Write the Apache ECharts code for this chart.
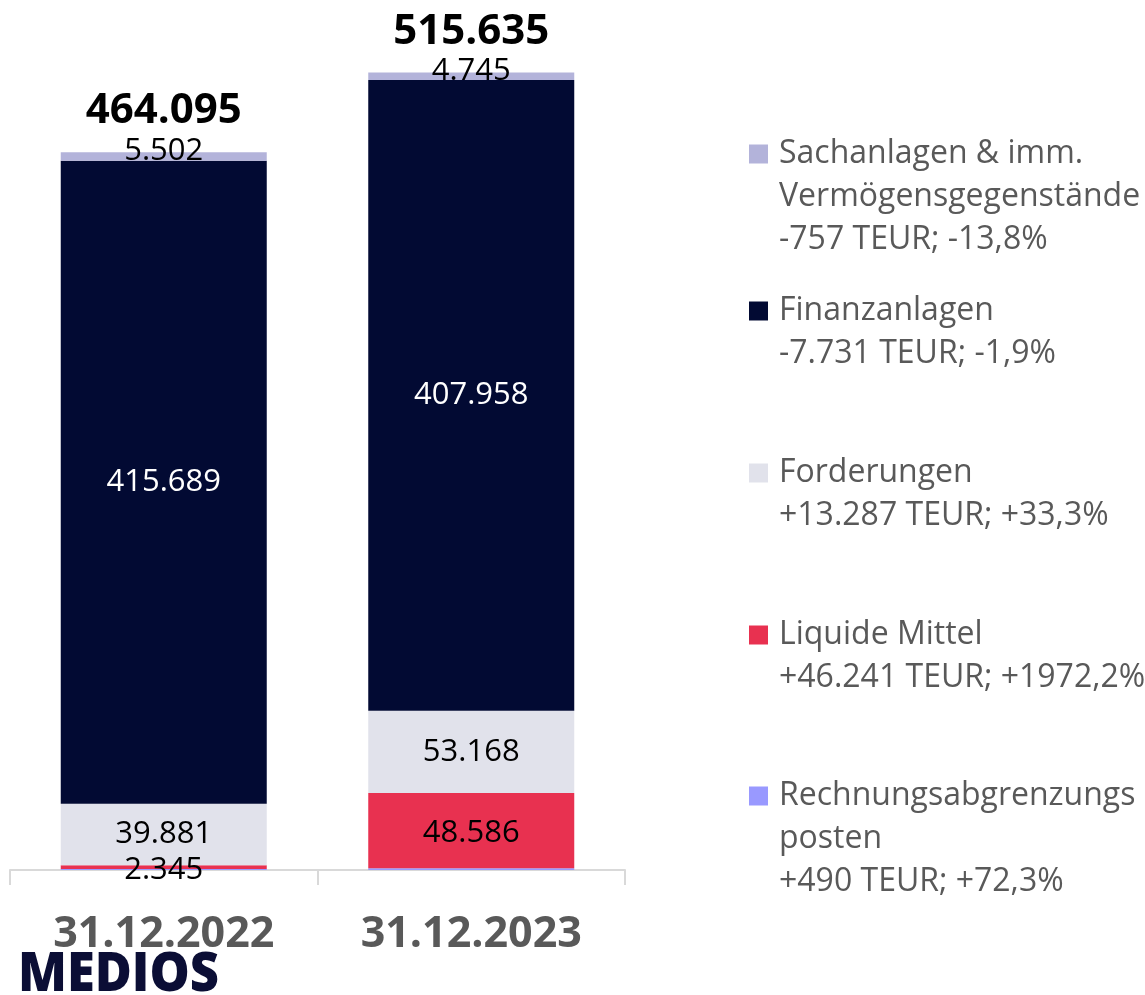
<!DOCTYPE html>
<html>
<head>
<meta charset="utf-8">
<script src="https://cdn.jsdelivr.net/npm/echarts@6/dist/echarts.min.js"></script>
<style>
  html, body { margin: 0; padding: 0; background: #fff; }
  #chart { width: 1145px; height: 995px; }
</style>
</head>
<body>
<div id="chart"></div>
<script>
const categories = ['31.12.2022', '31.12.2023'];

// bottom to top
const rap = [678, 1168];
const liquide = [2345, 48586];
const forderungen = [39881, 53168];
const finanzanlagen = [415689, 407958];
const sachanlagen = [5502, 4745];
const totals = [464095, 515635];

const names = {
    sach: 'Sachanlagen & imm. Vermögensgegenstände',
    fin: 'Finanzanlagen',
    ford: 'Forderungen',
    liq: 'Liquide Mittel',
    rap: 'Rechnungsabgrenzungsposten'
};

const legendLines = {
    [names.sach]: ['Sachanlagen & imm.', 'Vermögensgegenstände', '-757 TEUR; -13,8%'],
    [names.fin]: ['Finanzanlagen', '-7.731 TEUR; -1,9%'],
    [names.ford]: ['Forderungen', '+13.287 TEUR; +33,3%'],
    [names.liq]: ['Liquide Mittel', '+46.241 TEUR; +1972,2%'],
    [names.rap]: ['Rechnungsabgrenzungs', 'posten', '+490 TEUR; +72,3%']
};

const colors = {
    sach: '#b3b3da',
    fin: '#020a33',
    ford: '#e1e2eb',
    liq: '#e83150',
    rap: '#9999ff'
};

const fmt = (v) => String(v).replace(/\B(?=(\d{3})+(?!\d))/g, '.');

const FONT = '"Open Sans", sans-serif';
const LH = 43;

let Chart = echarts.init(document.getElementById('chart'));

const makeSeries = (key, data, labelColor, offset) => ({
    name: names[key],
    type: 'bar',
    stack: 'total',
    barWidth: 206,
    data: data,
    itemStyle: { color: colors[key] },
    label: {
        show: labelColor !== null,
        position: 'inside',
        offset: offset || [0, 0],
        color: labelColor,
        fontFamily: FONT,
        fontSize: 31,
        formatter: (p) => fmt(p.value)
    }
});

// one legend per entry; empty lines on top keep the icon next to the first line
const legendCenters = [154, 311, 473, 635, 796];
const legendOrder = ['sach', 'fin', 'ford', 'liq', 'rap'];
const legends = legendOrder.map((key, i) => {
    const n = legendLines[names[key]].length;
    return {
        data: [names[key]],
        left: 749,
        top: legendCenters[i] - (2 * n - 1) * LH / 2,
        padding: 0,
        itemWidth: 19,
        itemHeight: 19,
        icon: 'rect',
        selectedMode: false,
        formatter: (name) => '\n'.repeat(n - 1) + legendLines[name].join('\n'),
        textStyle: {
            fontFamily: FONT,
            fontSize: 32,
            color: '#595959',
            lineHeight: LH,
            padding: [0, 0, 0, 6]
        }
    };
});

Chart.setOption({
    animation: false,
    grid: { left: 10, right: 520, top: 4, bottom: 125, containLabel: false },
    legend: legends,
    xAxis: {
        type: 'category',
        data: categories,
        axisLine: { lineStyle: { color: '#d9d9d9', width: 2 } },
        axisTick: { show: true, length: 15, lineStyle: { color: '#d9d9d9', width: 2 } },
        axisLabel: {
            margin: 43,
            color: '#595959',
            fontFamily: FONT,
            fontWeight: 'bold',
            fontSize: 43
        }
    },
    yAxis: { type: 'value', min: 0, max: 560000, show: false },
    graphic: [{
        type: 'text',
        left: 18,
        top: 948,
        scaleX: 0.92,
        style: {
            text: 'MEDIOS',
            fill: '#0b0e35',
            font: '800 55px "Open Sans", sans-serif'
        }
    }],
    series: [
        makeSeries('rap', rap, null),
        makeSeries('liq', liquide, '#000', [0, 3]),
        makeSeries('ford', forderungen, '#000'),
        makeSeries('fin', finanzanlagen, '#fff'),
        makeSeries('sach', sachanlagen, '#000', [0, -5]),
        {
            name: 'Summe',
            type: 'bar',
            stack: 'total',
            barWidth: 206,
            data: [0, 0],
            itemStyle: { color: 'transparent' },
            label: {
                show: true,
                position: 'top',
                distance: 20,
                color: '#000',
                fontFamily: FONT,
                fontWeight: 'bold',
                fontSize: 42,
                formatter: (p) => fmt(totals[p.dataIndex])
            }
        }
    ]
});
</script>
</body>
</html>
